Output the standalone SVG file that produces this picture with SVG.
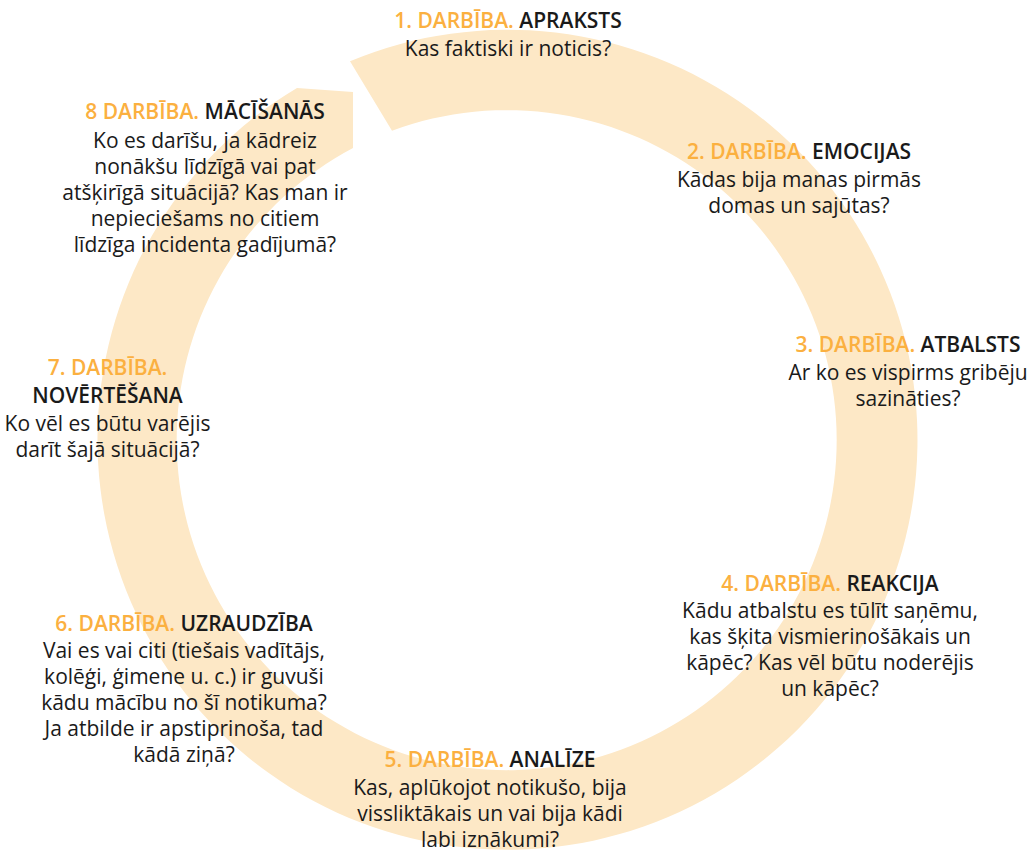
<svg xmlns="http://www.w3.org/2000/svg" width="1030" height="854" viewBox="0 0 1030 854">
<style>
text{font-family:"Open Sans","Liberation Sans",sans-serif;font-size:21px;fill:#1a1a1a;text-anchor:middle}
.t{font-weight:600}
.o{fill:#fbb040}
</style>
<rect width="1030" height="854" fill="#ffffff"/>
<g id="connectors">
<path id="cycle-arrow" d="M350 61.2 A410 410 0 1 1 297 87.9 L353 92 L353 148.1 A330 330 0 1 0 392 130.7 Z" fill="#fde8c6"/>
</g>
<g id="step1">
<text class="t" x="508" y="28"><tspan class="o">1. DARBĪBA.</tspan> APRAKSTS</text>
<text x="508" y="56">Kas faktiski ir noticis?</text>
</g>
<g id="step2">
<text class="t" x="799" y="159"><tspan class="o">2. DARBĪBA.</tspan> EMOCIJAS</text>
<text x="799" y="187">Kādas bija manas pirmās</text>
<text x="799" y="213">domas un sajūtas?</text>
</g>
<g id="step3">
<text class="t" x="908" y="352"><tspan class="o">3. DARBĪBA.</tspan> ATBALSTS</text>
<text x="908" y="380">Ar ko es vispirms gribēju</text>
<text x="908" y="406">sazināties?</text>
</g>
<g id="step4">
<text class="t" x="830" y="591"><tspan class="o">4. DARBĪBA.</tspan> REAKCIJA</text>
<text x="830" y="618">Kādu atbalstu es tūlīt saņēmu,</text>
<text x="830" y="644">kas šķita vismierinošākais un</text>
<text x="830" y="670">kāpēc? Kas vēl būtu noderējis</text>
<text x="830" y="696">un kāpēc?</text>
</g>
<g id="step5">
<text class="t" x="490" y="767"><tspan class="o">5. DARBĪBA.</tspan> ANALĪZE</text>
<text x="490" y="795">Kas, aplūkojot notikušo, bija</text>
<text x="490" y="821">vissliktākais un vai bija kādi</text>
<text x="490" y="847">labi iznākumi?</text>
</g>
<g id="step6">
<text class="t" x="184" y="631"><tspan class="o">6. DARBĪBA.</tspan> UZRAUDZĪBA</text>
<text x="184" y="658">Vai es vai citi (tiešais vadītājs,</text>
<text x="184" y="684">kolēģi, ģimene u. c.) ir guvuši</text>
<text x="184" y="710">kādu mācību no šī notikuma?</text>
<text x="184" y="736">Ja atbilde ir apstiprinoša, tad</text>
<text x="184" y="762">kādā ziņā?</text>
</g>
<g id="step7">
<text class="t o" x="107.5" y="375">7. DARBĪBA.</text>
<text class="t" x="107.5" y="403">NOVĒRTĒŠANA</text>
<text x="107.5" y="431">Ko vēl es būtu varējis</text>
<text x="107.5" y="457">darīt šajā situācijā?</text>
</g>
<g id="step8">
<text class="t" x="205" y="119"><tspan class="o">8 DARBĪBA.</tspan> MĀCĪŠANĀS</text>
<text x="205" y="148">Ko es darīšu, ja kādreiz</text>
<text x="205" y="174">nonākšu līdzīgā vai pat</text>
<text x="205" y="200">atšķirīgā situācijā? Kas man ir</text>
<text x="205" y="226">nepieciešams no citiem</text>
<text x="205" y="252">līdzīga incidenta gadījumā?</text>
</g>
</svg>
